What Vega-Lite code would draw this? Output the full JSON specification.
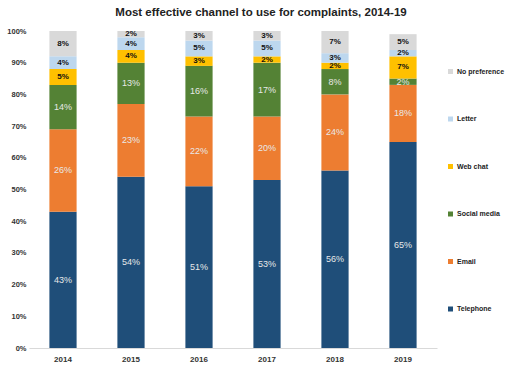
{
  "$schema": "https://vega.github.io/schema/vega-lite/v6.json",
  "width": 408,
  "height": 317,
  "autosize": "none",
  "padding": {"left": 29, "top": 31, "right": 73, "bottom": 17},
  "background": "white",
  "title": {
    "text": "Most effective channel to use for complaints, 2014-19",
    "font": "Liberation Sans",
    "fontSize": 11.5,
    "fontWeight": "bold",
    "color": "#222222",
    "anchor": "middle",
    "frame": "group",
    "dx": 28,
    "offset": 9
  },
  "config": {
    "view": {"stroke": null},
    "font": "Liberation Sans"
  },
  "resolve": {"axis": {"y": "independent"}},
  "data": {
    "values": [
      {"year": "2014", "channel": "Telephone", "pct": 0.43},
      {"year": "2014", "channel": "Email", "pct": 0.26},
      {"year": "2014", "channel": "Social media", "pct": 0.14},
      {"year": "2014", "channel": "Web chat", "pct": 0.05},
      {"year": "2014", "channel": "Letter", "pct": 0.04},
      {"year": "2014", "channel": "No preference", "pct": 0.08},
      {"year": "2015", "channel": "Telephone", "pct": 0.54},
      {"year": "2015", "channel": "Email", "pct": 0.23},
      {"year": "2015", "channel": "Social media", "pct": 0.13},
      {"year": "2015", "channel": "Web chat", "pct": 0.04},
      {"year": "2015", "channel": "Letter", "pct": 0.04},
      {"year": "2015", "channel": "No preference", "pct": 0.02},
      {"year": "2016", "channel": "Telephone", "pct": 0.51},
      {"year": "2016", "channel": "Email", "pct": 0.22},
      {"year": "2016", "channel": "Social media", "pct": 0.16},
      {"year": "2016", "channel": "Web chat", "pct": 0.03},
      {"year": "2016", "channel": "Letter", "pct": 0.05},
      {"year": "2016", "channel": "No preference", "pct": 0.03},
      {"year": "2017", "channel": "Telephone", "pct": 0.53},
      {"year": "2017", "channel": "Email", "pct": 0.20},
      {"year": "2017", "channel": "Social media", "pct": 0.17},
      {"year": "2017", "channel": "Web chat", "pct": 0.02},
      {"year": "2017", "channel": "Letter", "pct": 0.05},
      {"year": "2017", "channel": "No preference", "pct": 0.03},
      {"year": "2018", "channel": "Telephone", "pct": 0.56},
      {"year": "2018", "channel": "Email", "pct": 0.24},
      {"year": "2018", "channel": "Social media", "pct": 0.08},
      {"year": "2018", "channel": "Web chat", "pct": 0.02},
      {"year": "2018", "channel": "Letter", "pct": 0.03},
      {"year": "2018", "channel": "No preference", "pct": 0.07},
      {"year": "2019", "channel": "Telephone", "pct": 0.65},
      {"year": "2019", "channel": "Email", "pct": 0.18},
      {"year": "2019", "channel": "Social media", "pct": 0.02},
      {"year": "2019", "channel": "Web chat", "pct": 0.07},
      {"year": "2019", "channel": "Letter", "pct": 0.02},
      {"year": "2019", "channel": "No preference", "pct": 0.05}
    ]
  },
  "transform": [
    {
      "lookup": "channel",
      "from": {
        "data": {
          "values": [
            {"channel": "Telephone", "rank": 1},
            {"channel": "Email", "rank": 2},
            {"channel": "Social media", "rank": 3},
            {"channel": "Web chat", "rank": 4},
            {"channel": "Letter", "rank": 5},
            {"channel": "No preference", "rank": 6}
          ]
        },
        "key": "channel",
        "fields": ["rank"]
      }
    },
    {
      "stack": "pct",
      "groupby": ["year"],
      "sort": [{"field": "rank", "order": "ascending"}],
      "as": ["y0", "y1"]
    }
  ],
  "encoding": {
    "x": {
      "field": "year",
      "type": "ordinal",
      "scale": {"paddingInner": 0.6, "paddingOuter": 0.3},
      "axis": {
        "title": null,
        "labelAngle": 0,
        "labelFont": "Liberation Sans",
        "labelFontSize": 8,
        "labelFontWeight": "bold",
        "labelColor": "#333333",
        "ticks": false,
        "domainColor": "#d9d9d9",
        "labelPadding": 7
      }
    }
  },
  "layer": [
    {
      "mark": {"type": "bar"},
      "encoding": {
        "y": {
          "field": "y0",
          "type": "quantitative",
          "scale": {"domain": [0, 1], "nice": false},
          "axis": {
            "title": null,
            "format": ".0%",
            "values": [0, 0.1, 0.2, 0.3, 0.4, 0.5, 0.6, 0.7, 0.8, 0.9, 1],
            "labelOverlap": false,
            "grid": false,
            "domain": false,
            "ticks": false,
            "labelFont": "Liberation Sans",
            "labelFontSize": 7.5,
            "labelFontWeight": "bold",
            "labelColor": "#333333",
            "labelPadding": 3
          }
        },
        "y2": {"field": "y1"},
        "color": {
          "field": "channel",
          "type": "nominal",
          "scale": {
            "domain": ["Telephone", "Email", "Social media", "Web chat", "Letter", "No preference"],
            "range": ["#1F4E79", "#ED7D31", "#548235", "#FFC000", "#BDD7EE", "#D9D9D9"]
          },
          "legend": {
            "title": null,
            "orient": "none",
            "legendX": 418,
            "legendY": 37,
            "direction": "vertical",
            "values": ["No preference", "Letter", "Web chat", "Social media", "Email", "Telephone"],
            "symbolType": "square",
            "symbolSize": 25,
            "symbolStrokeWidth": 0,
            "labelFont": "Liberation Sans",
            "labelFontSize": 7,
            "labelFontWeight": "bold",
            "labelColor": "#222222",
            "labelOffset": 3,
            "labelLimit": 80,
            "rowPadding": 39.5
          }
        }
      }
    },
    {
      "transform": [
        {"fold": ["y0", "y1"], "as": ["edge", "pos"]},
        {"filter": "datum.rank <= 3"},
        {"aggregate": [{"op": "mean", "field": "pos", "as": "mid"}, {"op": "max", "field": "pct", "as": "pct"}], "groupby": ["year", "channel"]}
      ],
      "mark": {"type": "text", "fontSize": 9, "color": "#e8e8e8", "baseline": "middle"},
      "encoding": {
        "y": {"field": "mid", "type": "quantitative", "axis": null},
        "text": {"field": "pct", "type": "quantitative", "format": ".0%"}
      }
    },
    {
      "transform": [
        {"fold": ["y0", "y1"], "as": ["edge", "pos"]},
        {"filter": "datum.rank > 3"},
        {"aggregate": [{"op": "mean", "field": "pos", "as": "mid"}, {"op": "max", "field": "pct", "as": "pct"}], "groupby": ["year", "channel"]}
      ],
      "mark": {"type": "text", "fontSize": 8, "fontWeight": "bold", "color": "#111111", "baseline": "middle"},
      "encoding": {
        "y": {"field": "mid", "type": "quantitative", "axis": null},
        "text": {"field": "pct", "type": "quantitative", "format": ".0%"}
      }
    }
  ]
}
